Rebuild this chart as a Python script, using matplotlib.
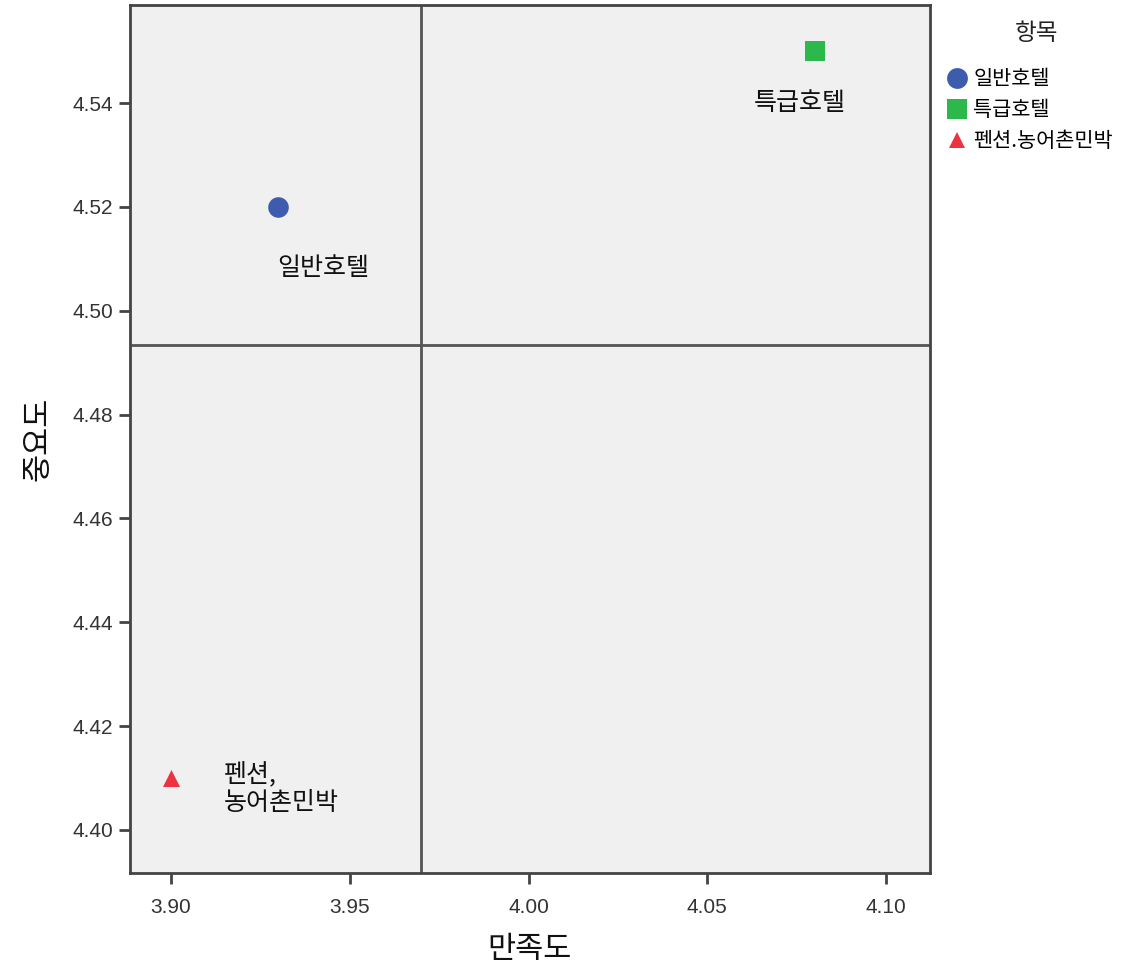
import matplotlib.pyplot as plt
from matplotlib.lines import Line2D

plt.rcParams['font.family'] = ['Noto Sans CJK KR', 'DejaVu Sans']

# data
items = ['일반호텔', '특급호텔', '펜션.농어촌민박']
point_labels = ['일반호텔', '특급호텔', '펜션,\n농어촌민박']
satisfaction = [3.93, 4.08, 3.90]
importance = [4.52, 4.55, 4.41]
mean_x = 3.97
mean_y = 4.4934
x_ticks = [3.90, 3.95, 4.00, 4.05, 4.10]
y_ticks = [4.40, 4.42, 4.44, 4.46, 4.48, 4.50, 4.52, 4.54]

colors = ['#3d5cae', '#2db84b', '#ee3340']
markers = ['o', 's', '^']
sizes = [220, 220, 150]
# label placement relative to the point (data units)
label_offsets = [(0.0125, -0.0118), (-0.004, -0.010), (0.0148, -0.0022)]
label_ha = ['center', 'center', 'left']

fig = plt.figure(figsize=(11.29, 9.63), dpi=100)
ax = fig.add_axes([130 / 1129, 1 - 873 / 963, 800 / 1129, 868 / 963])
ax.set_facecolor('#f0f0f0')

for i in range(len(items)):
    ax.scatter(satisfaction[i], importance[i], s=sizes[i], marker=markers[i],
               color=colors[i], zorder=3, linewidths=0)
    dx, dy = label_offsets[i]
    ax.text(satisfaction[i] + dx, importance[i] + dy, point_labels[i],
            fontsize=18, ha=label_ha[i], va='center',
            color='#111111', linespacing=1.1)

ax.axvline(mean_x, color='#555555', lw=2, zorder=2)
ax.axhline(mean_y, color='#555555', lw=2, zorder=2)

ax.set_xlim(3.8885, 4.1123)
ax.set_ylim(4.3917, 4.5589)
ax.set_xticks(x_ticks)
ax.set_yticks(y_ticks)
ax.set_xticklabels([f'{v:.2f}' for v in x_ticks], family='Liberation Sans', color='#333333')
ax.set_yticklabels([f'{v:.2f}' for v in y_ticks], family='Liberation Sans', color='#333333')
ax.tick_params(direction='out', length=8, width=2, color='#444444', labelsize=15)
ax.tick_params(axis='x', pad=10)
ax.tick_params(axis='y', pad=4)

for sp in ax.spines.values():
    sp.set_color('#444444')
    sp.set_linewidth(2)

ax.set_xlabel('만족도', fontsize=22, labelpad=12, color='#111111')
ax.set_ylabel('중요도', fontsize=22, labelpad=14, color='#111111')

# legend: title drawn separately so the gap matches
fig.text(1036 / 1129, 1 - 33 / 963, '항목', fontsize=17, ha='center', va='center',
         color='#222222')
handles = [Line2D([], [], marker=markers[i], color=colors[i], linestyle='',
                  markersize=15 if i < 2 else 12, markeredgewidth=0)
           for i in range(len(items))]
leg = fig.legend(handles, items, loc='upper left', bbox_to_anchor=(938 / 1129, 1 - 60 / 963),
                 frameon=False, fontsize=15,
                 handlelength=1.0, handletextpad=0.3, labelspacing=0.42,
                 borderaxespad=0)

fig.savefig('out.png', dpi=100)
